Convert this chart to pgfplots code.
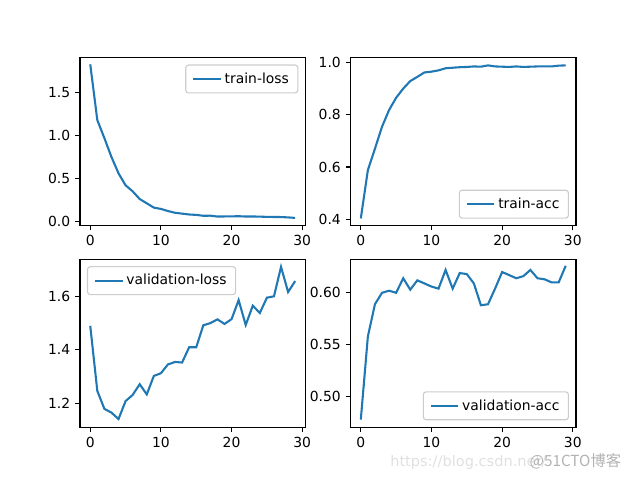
\documentclass[border=0pt]{standalone}
\usepackage{fontspec}
\setmainfont{DejaVu Sans}
\newfontfamily\cjk{Noto Sans CJK SC}
\usepackage{pgfplots}
\pgfplotsset{compat=1.18}
\definecolor{tabblue}{HTML}{1F77B4}

% one px of the 640x480 figure = 0.72pt
\pgfplotsset{
  mplstyle/.style={
    scale only axis,
    width=162.3pt, height=120.96pt,
    anchor=south west,
    axis line style={line width=0.8pt},
    tick style={line width=0.8pt, black},
    tick align=outside,
    major tick length=3.5pt,
    xtick pos=bottom, ytick pos=left,
    xmin=-1.45, xmax=30.45,
    xtick={0,10,20,30},
    ticklabel style={font=\fontsize{10}{12}\selectfont},
    /pgf/number format/assume math mode=true,
    legend cell align=left,
    legend style={draw=black!20, rounded corners=2pt, line width=0.8pt,
      font=\fontsize{10}{12}\selectfont, inner xsep=4.5pt, inner ysep=3.5pt},
    legend image code/.code={\draw[#1] (0pt,0pt) -- (20pt,0pt);},
  },
  curve/.style={color=tabblue, line width=1.5pt, no marks},
}

\begin{document}
\begin{tikzpicture}
\useasboundingbox (0,0) rectangle (460.8pt,345.6pt);

% train-loss
\begin{axis}[mplstyle, at={(57.6pt,183.2pt)},
  ymin=-0.049, ymax=1.909, ytick={0,0.5,1.0,1.5},
  yticklabel style={/pgf/number format/.cd, fixed, fixed zerofill, precision=1},
  legend style={at={(0.969,0.959)}, anchor=north east}]
\addplot[curve] coordinates {
(0,1.83)(1,1.18)(2,0.97)(3,0.75)(4,0.56)(5,0.42)(6,0.35)(7,0.26)(8,0.21)(9,0.16)
(10,0.145)(11,0.12)(12,0.10)(13,0.09)(14,0.08)(15,0.075)(16,0.065)(17,0.066)(18,0.056)(19,0.057)
(20,0.058)(21,0.060)(22,0.056)(23,0.057)(24,0.055)(25,0.052)(26,0.051)(27,0.050)(28,0.046)(29,0.040)
};
\addlegendentry{train-loss}
\end{axis}

% train-acc
\begin{axis}[mplstyle, at={(252.4pt,183.2pt)},
  ymin=0.3758, ymax=1.019, ytick={0.4,0.6,0.8,1.0},
  yticklabel style={/pgf/number format/.cd, fixed, fixed zerofill, precision=1},
  legend style={at={(0.969,0.041)}, anchor=south east}]
\addplot[curve] coordinates {
(0,0.403)(1,0.588)(2,0.670)(3,0.754)(4,0.818)(5,0.865)(6,0.900)(7,0.929)(8,0.945)(9,0.962)
(10,0.965)(11,0.970)(12,0.978)(13,0.980)(14,0.982)(15,0.983)(16,0.985)(17,0.984)(18,0.989)(19,0.985)
(20,0.984)(21,0.983)(22,0.985)(23,0.983)(24,0.984)(25,0.985)(26,0.985)(27,0.985)(28,0.988)(29,0.989)
};
\addlegendentry{train-acc}
\end{axis}

% validation-loss
\begin{axis}[mplstyle, at={(57.6pt,38.0pt)},
  ymin=1.1115, ymax=1.7385, ytick={1.2,1.4,1.6},
  yticklabel style={/pgf/number format/.cd, fixed, fixed zerofill, precision=1},
  legend style={at={(0.031,0.959)}, anchor=north west}]
\addplot[curve] coordinates {
(0,1.490)(1,1.247)(2,1.180)(3,1.166)(4,1.142)(5,1.209)(6,1.232)(7,1.272)(8,1.234)(9,1.303)
(10,1.313)(11,1.346)(12,1.355)(13,1.353)(14,1.410)(15,1.410)(16,1.492)(17,1.500)(18,1.514)(19,1.497)
(20,1.515)(21,1.586)(22,1.493)(23,1.565)(24,1.538)(25,1.595)(26,1.600)(27,1.710)(28,1.616)(29,1.657)
};
\addlegendentry{validation-loss}
\end{axis}

% validation-acc
\begin{axis}[mplstyle, at={(252.4pt,38.0pt)},
  ymin=0.4707, ymax=0.6323, ytick={0.50,0.55,0.60},
  yticklabel style={/pgf/number format/.cd, fixed, fixed zerofill, precision=2},
  legend style={at={(0.969,0.041)}, anchor=south east}]
\addplot[curve] coordinates {
(0,0.478)(1,0.558)(2,0.589)(3,0.600)(4,0.602)(5,0.600)(6,0.614)(7,0.603)(8,0.612)(9,0.609)
(10,0.606)(11,0.604)(12,0.622)(13,0.604)(14,0.619)(15,0.618)(16,0.609)(17,0.588)(18,0.589)(19,0.604)
(20,0.620)(21,0.617)(22,0.614)(23,0.616)(24,0.622)(25,0.614)(26,0.613)(27,0.610)(28,0.610)(29,0.626)
};
\addlegendentry{validation-acc}
\end{axis}

% watermark (the two parts overlap, as in the source image)
\node[anchor=base west, inner sep=0pt, font=\fontsize{10.5}{12}\selectfont]
  at (280.8pt,9.4pt) {\textcolor{black!12}{https://blog.csdn.net/}\kern-12pt%
  \textcolor{black!30}{\fontsize{11}{12}\cjk @51CTO博客}};
\end{tikzpicture}
\end{document}
